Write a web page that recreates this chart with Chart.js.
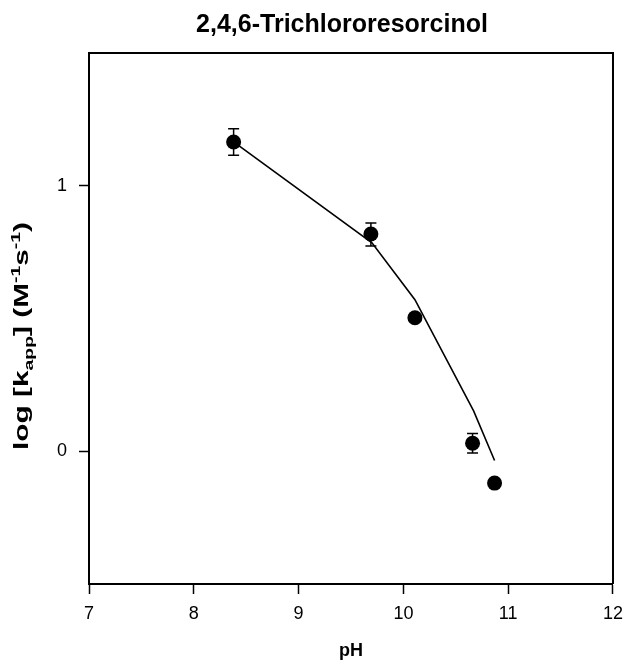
<!DOCTYPE html>
<html><head><meta charset="utf-8">
<script src="https://cdn.jsdelivr.net/npm/chart.js@4"></script>
<style>html,body{margin:0;padding:0;background:#fff}</style>
</head><body>
<canvas id="c" width="632" height="662" style="width:632px;height:662px;display:block"></canvas>
<script>
const titleText = '2,4,6-Trichlororesorcinol';
const xAxisTitle = 'pH';
const xTickValues = [7, 8, 9, 10, 11, 12];
const yTickValues = [0, 1];
const phValues = [8.38, 9.69, 10.11, 10.66, 10.87];
const logKValues = [1.165, 0.818, 0.503, 0.03, -0.12];
const errUp = [0.05, 0.042, 0, 0.037, 0];
const errDown = [0.05, 0.045, 0, 0.037, 0];
const fitPH = [8.38, 9.7, 10.11, 10.67, 10.87];
const fitLogK = [1.165, 0.785, 0.571, 0.152, -0.035];

const FONT = "Arial, 'Liberation Sans', Helvetica, sans-serif";

const framePlugin = {
  id: 'frame',
  afterDraw(chart) {
    const {ctx, chartArea: a} = chart;
    ctx.save();
    ctx.strokeStyle = '#000';
    ctx.lineWidth = 2;
    ctx.beginPath();
    ctx.moveTo(a.left, a.top); ctx.lineTo(a.right, a.top); ctx.lineTo(a.right, a.bottom);
    ctx.stroke();
    // title
    ctx.fillStyle = '#000';
    ctx.font = 'bold 25px ' + FONT;
    ctx.textAlign = 'center';
    ctx.textBaseline = 'alphabetic';
    ctx.fillText(titleText, 342, 32);
    // x title
    ctx.font = 'bold 18px ' + FONT;
    ctx.textBaseline = 'middle';
    ctx.fillText(xAxisTitle, (a.left + a.right) / 2, 651);
    // y title with sub/superscripts
    const base = 20, small = 13;
    const segs = [
      {t: 'log [k', s: base, dy: 0},
      {t: 'app', s: small, dy: 5},
      {t: '] (M', s: base, dy: 0},
      {t: '-1', s: small, dy: -8},
      {t: 's', s: base, dy: 0},
      {t: '-1', s: small, dy: -8},
      {t: ')', s: base, dy: 0}
    ];
    let total = 0;
    segs.forEach(g => { ctx.font = 'bold ' + g.s + 'px ' + FONT; g.w = ctx.measureText(g.t).width; total += g.w; });
    const targetLen = 228;
    const sx = targetLen / total;
    ctx.translate(21, 336);
    ctx.rotate(-Math.PI / 2);
    ctx.scale(sx, 1);
    ctx.textAlign = 'left';
    ctx.textBaseline = 'alphabetic';
    let x = -total / 2;
    segs.forEach(g => { ctx.font = 'bold ' + g.s + 'px ' + FONT; ctx.fillText(g.t, x, 7 + g.dy); x += g.w; });
    ctx.restore();
  }
};

const errPlugin = {
  id: 'errbars',
  afterDatasetsDraw(chart) {
    const {ctx, scales: {x, y}} = chart;
    ctx.save();
    ctx.strokeStyle = '#000';
    ctx.lineWidth = 1.5;
    phValues.forEach((p, i) => {
      if (!errUp[i] && !errDown[i]) return;
      const px = x.getPixelForValue(p);
      const top = y.getPixelForValue(logKValues[i] + errUp[i]);
      const bot = y.getPixelForValue(logKValues[i] - errDown[i]);
      ctx.beginPath();
      ctx.moveTo(px, top); ctx.lineTo(px, bot);
      ctx.moveTo(px - 5.5, top); ctx.lineTo(px + 5.5, top);
      ctx.moveTo(px - 5.5, bot); ctx.lineTo(px + 5.5, bot);
      ctx.stroke();
    });
    ctx.restore();
  }
};

new Chart(document.getElementById('c'), {
  type: 'scatter',
  data: {
    datasets: [
      {
        data: fitPH.map((p, i) => ({x: p, y: fitLogK[i]})),
        showLine: true, borderColor: '#000', borderWidth: 1.6, pointRadius: 0, fill: false, tension: 0
      },
      {
        data: phValues.map((p, i) => ({x: p, y: logKValues[i]})),
        showLine: false, pointRadius: 7.5, pointBackgroundColor: '#000', pointBorderColor: '#000', pointBorderWidth: 0
      }
    ]
  },
  options: {
    responsive: false,
    animation: false,
    devicePixelRatio: 1,
    layout: {padding: {left: 0, right: 13, top: 53, bottom: 0}},
    plugins: {legend: {display: false}, tooltip: {enabled: false}, title: {display: false}},
    scales: {
      x: {
        type: 'linear', min: 7, max: 12,
        afterBuildTicks: s => { s.ticks = xTickValues.map(v => ({value: v})); },
        afterFit: s => { s.height = 78; },
        ticks: {font: {family: FONT, size: 18}, color: '#000', padding: 9},
        grid: {drawOnChartArea: false, drawTicks: true, tickLength: 10, tickColor: '#000', tickWidth: 1.5},
        border: {display: true, color: '#000', width: 2}
      },
      y: {
        type: 'linear', min: -0.5, max: 1.5,
        afterBuildTicks: s => { s.ticks = yTickValues.map(v => ({value: v})); },
        afterFit: s => { s.width = 89; },
        ticks: {font: {family: FONT, size: 18}, color: '#000', padding: 12},
        grid: {drawOnChartArea: false, drawTicks: true, tickLength: 10, tickColor: '#000', tickWidth: 1.5},
        border: {display: true, color: '#000', width: 2}
      }
    }
  },
  plugins: [framePlugin, errPlugin]
});
</script>
</body></html>
